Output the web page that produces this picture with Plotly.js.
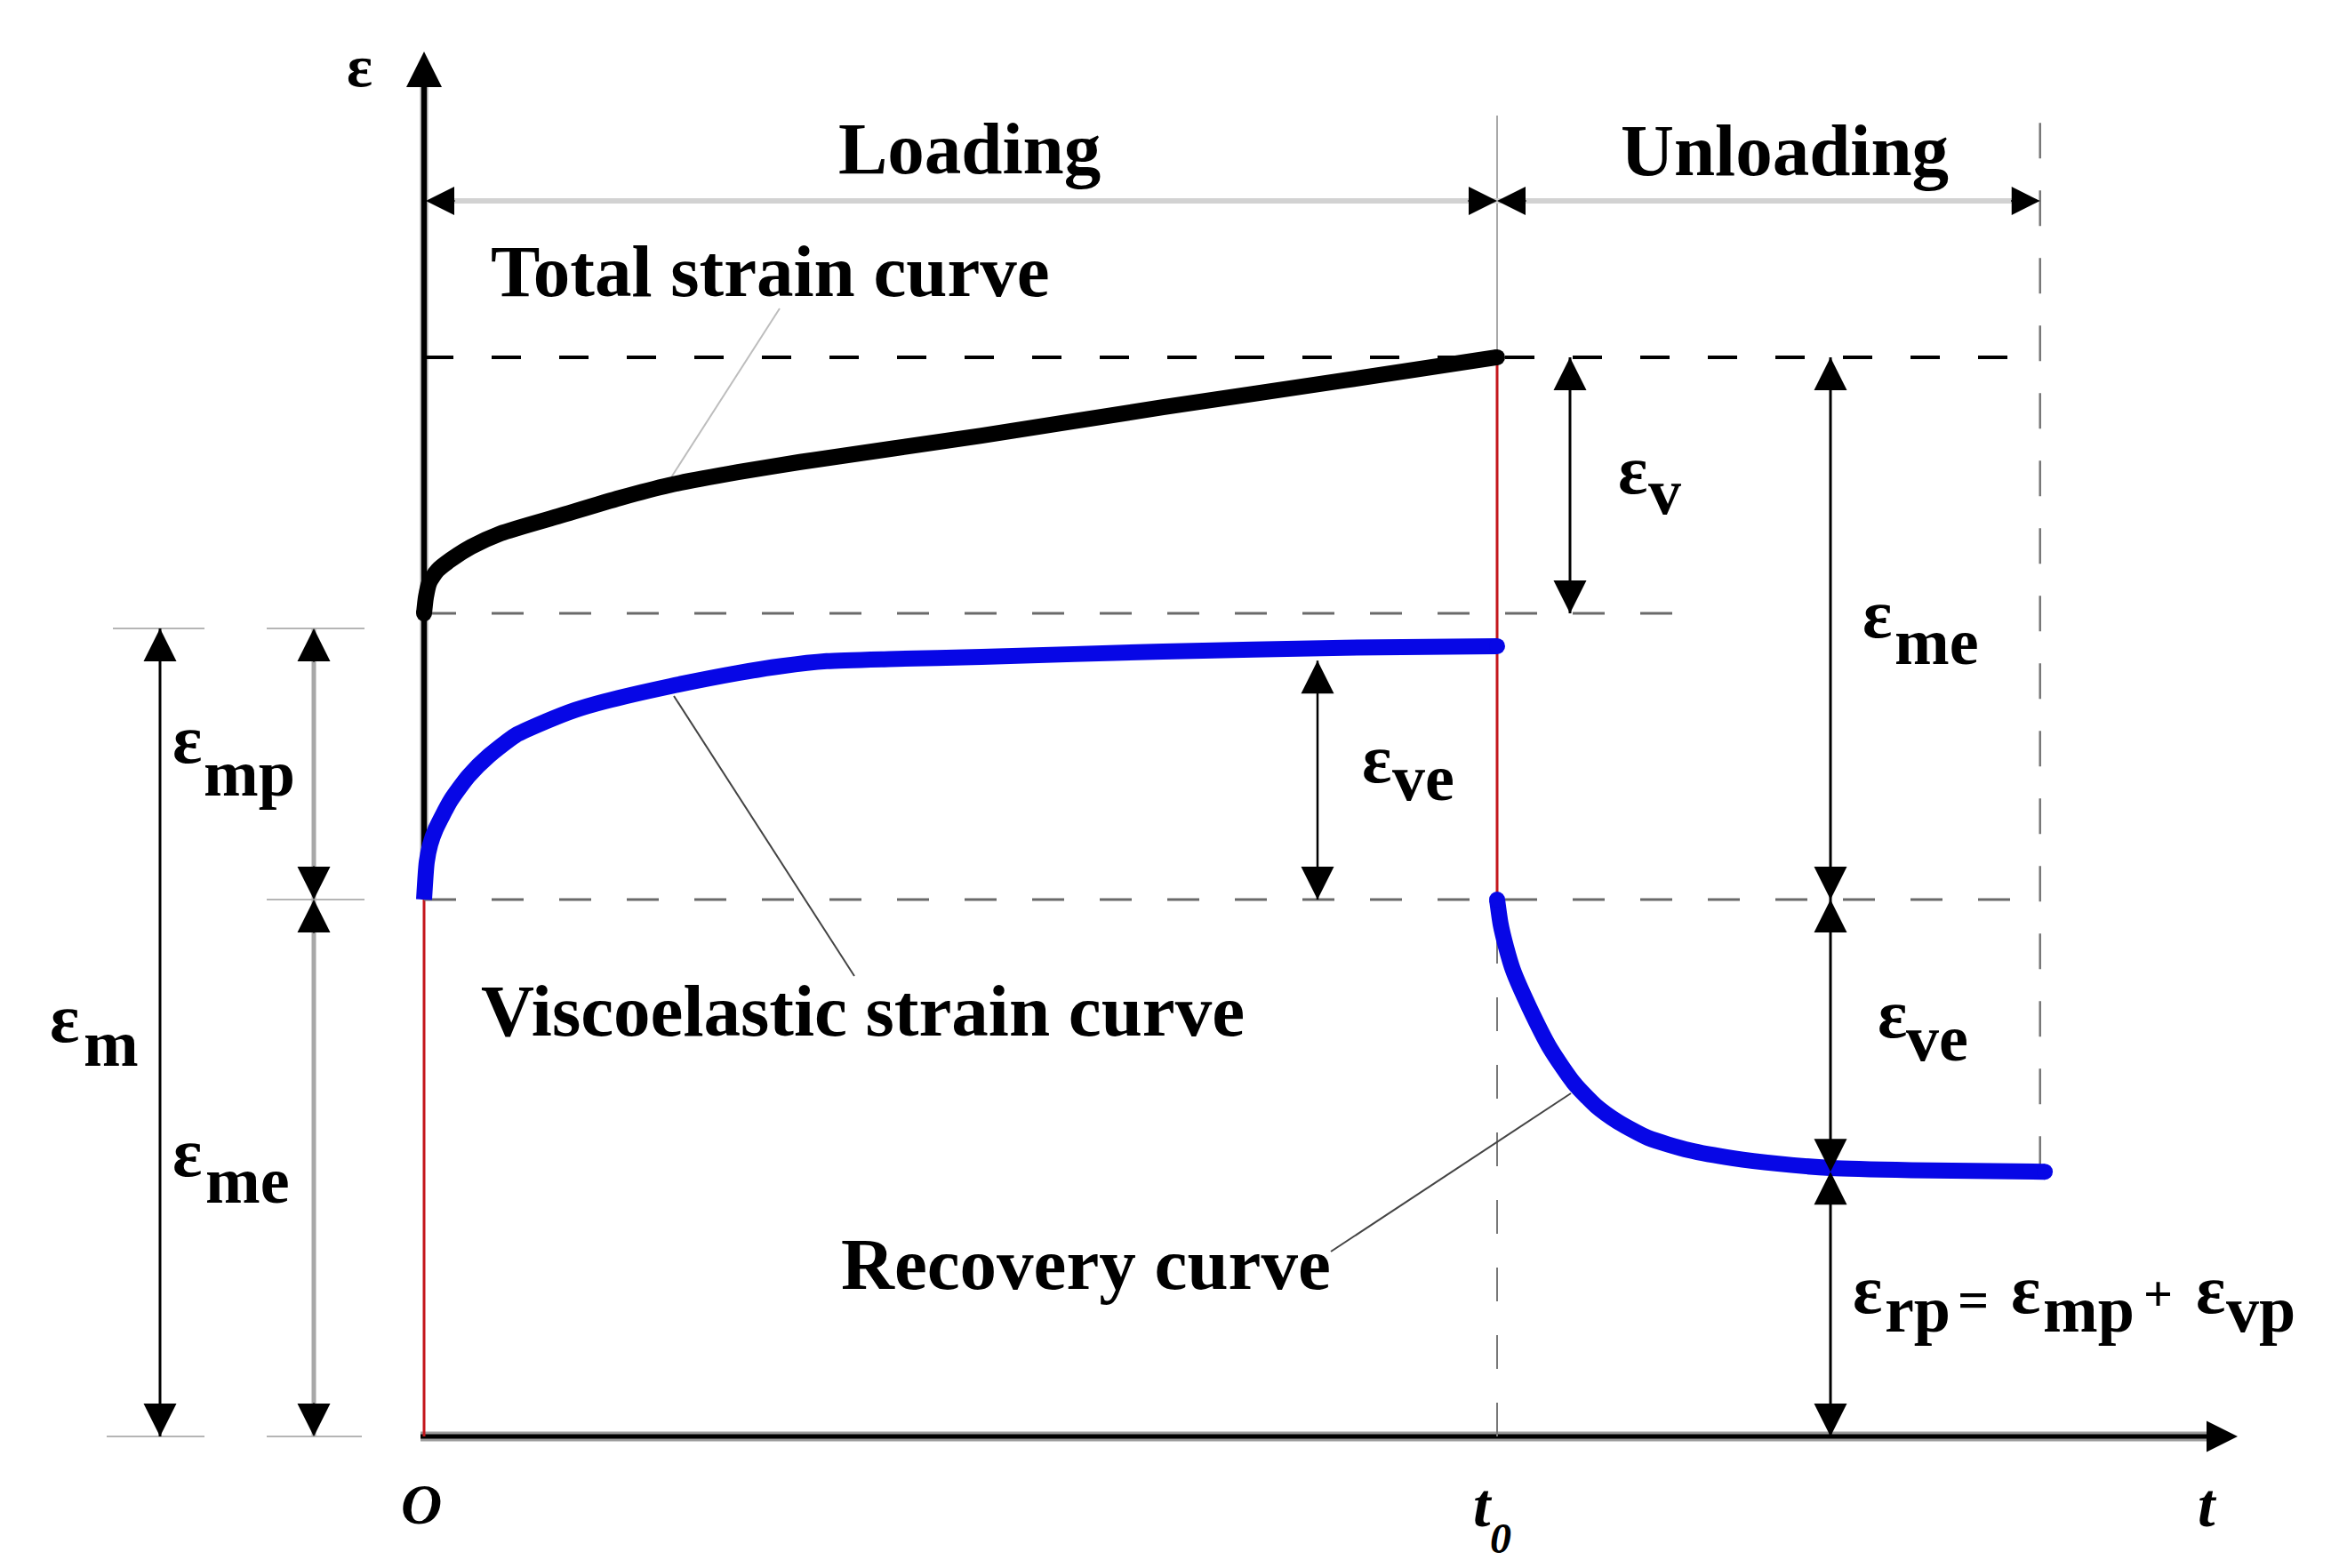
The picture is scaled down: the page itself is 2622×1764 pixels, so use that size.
<!DOCTYPE html>
<html>
<head>
<meta charset="utf-8">
<script src="https://cdn.plot.ly/plotly-3.0.1.min.js"></script>
<style>html,body{margin:0;padding:0;background:#fff;}</style>
</head>
<body>
<div id="chart" style="width:2622px;height:1764px;"></div>
<script>
// ---------------- DATA (t normalised so t0 = 1; strain normalised so the elastic jump εme = 1) -------------
const totalT   = [0, 0.0017, 0.0050, 0.0124, 0.0249, 0.0439, 0.0713, 0.1268, 0.1823, 0.2287, 0.2925, 0.3505, 0.5195, 0.6885, 0.8575, 1.000];
const totalEps = [1.533, 1.563, 1.591, 1.613, 1.633, 1.657, 1.682, 1.715, 1.748, 1.772, 1.796, 1.815, 1.864, 1.917, 1.967, 2.010];

const veT   = [0, 0.0025, 0.0058, 0.0108, 0.0249, 0.0414, 0.0605, 0.0853, 0.1127, 0.1408, 0.1682, 0.2287, 0.2925, 0.3339, 0.3753, 0.4333, 0.5195, 0.6885, 0.8575, 1.000];
const veEps = [1.000, 1.070, 1.103, 1.131, 1.185, 1.230, 1.268, 1.306, 1.331, 1.353, 1.369, 1.397, 1.422, 1.435, 1.444, 1.448, 1.452, 1.462, 1.469, 1.472];

const recT   = [1.000, 1.0033, 1.0083, 1.0149, 1.0298, 1.0497, 1.0713, 1.0920, 1.1127, 1.1408, 1.1790, 1.2204, 1.2618, 1.3107, 1.3861, 1.5104];
const recEps = [1.000, 0.954, 0.912, 0.868, 0.800, 0.722, 0.659, 0.616, 0.586, 0.556, 0.533, 0.518, 0.508, 0.500, 0.496, 0.493];

// characteristic levels
const T0 = 1.0, T_END = 1.506;
const EPS_ME = 1.0;          // instantaneous elastic strain
const EPS_M_TOP = 1.505;     // εm = εme + εmp
const EPS_TOTAL_START = 1.533;
const EPS_TOTAL_END = 2.010;
const EPS_VE_TOP = 1.445;
const EPS_RP = 0.493;

// ---------------- LAYOUT HELPERS ----------------
const W = 2622, H = 1764;
const OX = 477, OY = 1616, KX = 1207, KY = 604;
const tx = X => (X - OX) / KX;
const ey = Y => (OY - Y) / KY;
const FONT = 'Liberation Serif, Times New Roman, serif';

const shapes = [];
function seg(t0, e0, t1, e1, color, width, dash) {
  shapes.push({type: 'line', xref: 'x', yref: 'y', x0: t0, y0: e0, x1: t1, y1: e1,
    line: {color: color, width: width, dash: dash || 'solid'}, layer: 'below'});
}
const annotations = [];
function head(t, e, dir, size, color) {
  const L = size * 5 + 2;
  const off = {up: [0, L], down: [0, -L], left: [L, 0], right: [-L, 0]}[dir];
  annotations.push({x: t, y: e, xref: 'x', yref: 'y', text: '', showarrow: true,
    arrowhead: 2, arrowwidth: 2, arrowsize: size / 2, arrowcolor: color || '#000',
    ax: off[0], ay: off[1], standoff: 0});
}
function txt(X, Yc, text, size, xanchor) {
  annotations.push({x: tx(X), y: ey(Yc), xref: 'x', yref: 'y', text: text, showarrow: false,
    xanchor: xanchor || 'center', yanchor: 'middle', borderpad: 0,
    font: {family: FONT, size: size, color: '#000'}});
}
// ε with a full-size lowered subscript: junction x, ε baseline, subscript baseline
const FE = 78, FS = 74;
function epsLab(Xj, baseE, sub, baseS, Xs) {
  txt(Xj, baseE - 0.3375 * FE, '<b>ε</b>', FE, 'right');
  txt(Xs === undefined ? Xj : Xs, baseS - 0.3375 * FS, '<b>' + sub + '</b>', FS, 'left');
}

// ---------------- AXES ----------------
seg(tx(473), 0, tx(2490), 0, '#9c9c9c', 11);
seg(tx(473), 0, tx(2490), 0, '#000', 5);
seg(0, EPS_ME, 0, ey(95), '#a0a0a0', 9);
seg(0, EPS_ME, 0, ey(95), '#000', 6);
head(0, ey(58), 'up', 8);
head(tx(2517), 0, 'right', 7);

// red elastic jumps
seg(0, 0, 0, EPS_ME, '#c4161c', 3);
seg(T0, EPS_ME, T0, EPS_TOTAL_END, '#c4161c', 3);

// dashed guides
seg(0, EPS_TOTAL_END, T_END, EPS_TOTAL_END, '#000', 4, '33px,43px');
seg(0, EPS_TOTAL_START, tx(1910), EPS_TOTAL_START, '#6a6a6a', 3, '36px,40px');
seg(0, EPS_ME, T_END, EPS_ME, '#6a6a6a', 3, '36px,40px');
seg(T0, 0, T0, EPS_ME, '#777', 2, '38px,38px');
seg(T_END, EPS_RP, T_END, ey(130), '#777', 2.5, '40px,36px');
seg(T0, EPS_TOTAL_END, T0, ey(130), '#a8a8a8', 2);

// short extension lines on the left
seg(tx(127), EPS_M_TOP, tx(230), EPS_M_TOP, '#b5b5b5', 2);
seg(tx(300), EPS_M_TOP, tx(410), EPS_M_TOP, '#b5b5b5', 2);
seg(tx(120), 0, tx(230), 0, '#b5b5b5', 2);
seg(tx(300), 0, tx(407), 0, '#b5b5b5', 2);
seg(tx(300), EPS_ME, tx(410), EPS_ME, '#b5b5b5', 2);

// loading / unloading span
seg(tx(500), ey(226), tx(2280), ey(226), '#d2d2d2', 6);
head(tx(479), ey(226), 'left', 6.4);
head(T0, ey(226), 'right', 6.4);
head(T0, ey(226), 'left', 6.4);
head(T_END, ey(226), 'right', 6.4);

// dimension arrows
seg(tx(180), 0, tx(180), EPS_M_TOP, '#000', 3);
head(tx(180), EPS_M_TOP, 'up', 7.4); head(tx(180), 0, 'down', 7.4);

seg(tx(353), 0, tx(353), EPS_M_TOP, '#a8a8a8', 5);
head(tx(353), EPS_M_TOP, 'up', 7.4); head(tx(353), EPS_ME, 'down', 7.4);
head(tx(353), EPS_ME, 'up', 7.4); head(tx(353), 0, 'down', 7.4);

seg(tx(1766), EPS_TOTAL_START, tx(1766), EPS_TOTAL_END, '#000', 3);
head(tx(1766), EPS_TOTAL_END, 'up', 7.4); head(tx(1766), EPS_TOTAL_START, 'down', 7.4);

seg(tx(1482), EPS_ME, tx(1482), EPS_VE_TOP, '#000', 2.5);
head(tx(1482), EPS_VE_TOP, 'up', 7.4); head(tx(1482), EPS_ME, 'down', 7.4);

seg(tx(2059), 0, tx(2059), EPS_TOTAL_END, '#000', 3);
head(tx(2059), EPS_TOTAL_END, 'up', 7.4);
head(tx(2059), EPS_ME, 'down', 7.4); head(tx(2059), EPS_ME, 'up', 7.4);
head(tx(2059), EPS_RP, 'down', 7.4); head(tx(2059), EPS_RP, 'up', 7.4);
head(tx(2059), 0, 'down', 7.4);

// leader lines
seg(tx(877), ey(347), tx(755), ey(537), '#bdbdbd', 2);
seg(tx(758), ey(783), tx(961), ey(1098), '#444', 2);
seg(tx(1497), ey(1408), tx(1767), ey(1230), '#444', 2);

// ---------------- TEXT ----------------
txt(1090, 167, '<b>Loading</b>', 83);
txt(2007, 169, '<b>Unloading</b>', 83);
txt(551, 305, '<b>Total strain curve</b>', 83, 'left');
txt(540, 1137, '<b>Viscoelastic strain curve</b>', 83, 'left');
txt(945, 1422, '<b>Recovery curve</b>', 83, 'left');

txt(404, 74, '<b>ε</b>', 68);
txt(474, 1692, '<b><i>O</i></b>', 64);
txt(2483, 1693, '<b><i>t</i></b>', 70);
txt(1668, 1693, '<b><i>t</i></b>', 70);
txt(1688, 1730, '<b><i>0</i></b>', 48);

epsLab(90, 1172, 'm', 1199, 93);
epsLab(228, 858, 'mp', 895);
epsLab(228, 1323, 'me', 1353, 230);
epsLab(1854, 555, 'v', 578, 1853);
epsLab(1566, 880, 've', 900, 1565);
epsLab(2129, 717, 'me', 747, 2130);
epsLab(2146, 1167, 've', 1193, 2143);
// ε_rp = ε_mp + ε_vp
epsLab(2118, 1477, 'rp', 1498, 2119);
txt(2219, 1462, '<b>=</b>', 62);
epsLab(2296, 1477, 'mp', 1498, 2297);
txt(2427, 1455, '<b>+</b>', 58);
epsLab(2504, 1477, 'vp', 1498, 2503);

// ---------------- TRACES ----------------
const BLUE = '#0707e6';
const LW = 18;
const last = a => a[a.length - 1];
const traces = [
  {x: totalT, y: totalEps, mode: 'lines', line: {color: '#000', width: LW, shape: 'spline', smoothing: 0.6}, hoverinfo: 'skip'},
  {x: veT, y: veEps, mode: 'lines', line: {color: BLUE, width: LW, shape: 'spline', smoothing: 0.6}, hoverinfo: 'skip'},
  {x: recT, y: recEps, mode: 'lines', line: {color: BLUE, width: LW, shape: 'spline', smoothing: 0.6}, hoverinfo: 'skip'},
  {x: [totalT[0], last(totalT)], y: [totalEps[0], last(totalEps)], mode: 'markers',
   marker: {color: '#000', size: LW, line: {width: 0}}, hoverinfo: 'skip'},
  {x: [last(veT), recT[0], last(recT)], y: [last(veEps), recEps[0], last(recEps)], mode: 'markers',
   marker: {color: BLUE, size: LW, line: {width: 0}}, hoverinfo: 'skip'}
];

const layout = {
  width: W, height: H,
  margin: {l: 0, r: 0, t: 0, b: 0, pad: 0},
  paper_bgcolor: '#fff', plot_bgcolor: '#fff',
  showlegend: false,
  xaxis: {range: [tx(0), tx(W)], visible: false, fixedrange: true},
  yaxis: {range: [ey(H), ey(0)], visible: false, fixedrange: true},
  shapes: shapes,
  annotations: annotations
};
Plotly.newPlot('chart', traces, layout, {displayModeBar: false, staticPlot: true});
</script>
</body>
</html>
